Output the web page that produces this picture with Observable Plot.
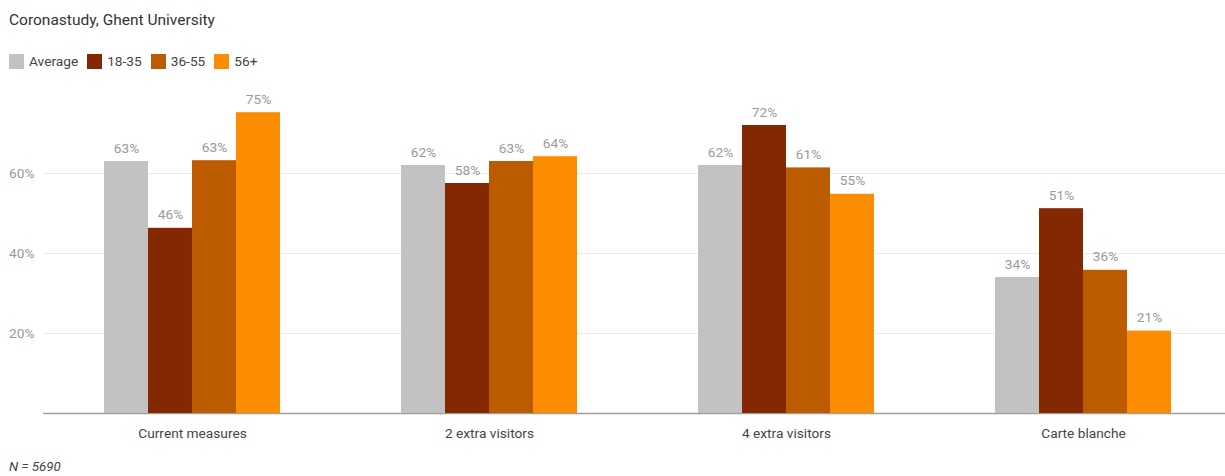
<!DOCTYPE html>
<html>
<head>
<meta charset="utf-8">
<script src="https://cdn.jsdelivr.net/npm/d3@7"></script>
<script src="https://cdn.jsdelivr.net/npm/@observablehq/plot@0.6"></script>
<style>
  html, body { margin: 0; padding: 0; background: #fff; }
  #root { position: relative; width: 1225px; height: 476px; font-family: Roboto, "Noto Sans", sans-serif; overflow: hidden; }
  #title { position: absolute; left: 9px; top: 11px; font-size: 15.5px; color: #333; }
  #legend { position: absolute; left: 9px; top: 53px; display: flex; align-items: center; font-size: 13.7px; color: #444; }
  .item { display: flex; align-items: center; margin-right: 9px; }
  .sw { width: 15px; height: 15px; margin-right: 5px; }
  .layer { position: absolute; left: 0; top: 80px; }
  #caption { position: absolute; left: 9px; top: 459px; font-size: 13.3px; font-style: italic; color: #444; }
</style>
</head>
<body>
<div id="root">
  <div id="title">Coronastudy, Ghent University</div>
  <div id="legend"></div>
  <div id="bg" class="layer"></div>
  <div id="fg" class="layer"></div>
  <div id="caption">N = 5690</div>
</div>
<script>
const groups = ["Current measures", "2 extra visitors", "4 extra visitors", "Carte blanche"];
const series = ["Average", "18-35", "36-55", "56+"];
const colors = ["#c2c2c2", "#832800", "#bd5b00", "#fc8c00"];
const average = [63, 62, 62, 34];
const age18_35 = [46.3, 57.5, 72, 51.2];
const age36_55 = [63.2, 63, 61.4, 35.8];
const age56plus = [75.2, 64.2, 54.8, 20.6];
const yTicks = [20, 40, 60];

const seriesValues = [average, age18_35, age36_55, age56plus];
const data = [];
groups.forEach((g, gi) => series.forEach((s, si) => data.push({group: g, series: s, value: seriesValues[si][gi]})));

// legend
const legend = document.getElementById("legend");
series.forEach((s, i) => {
  const it = document.createElement("div");
  it.className = "item";
  it.innerHTML = `<div class="sw" style="background:${colors[i]}"></div><span>${s}</span>`;
  legend.appendChild(it);
});

const W = 1225, H = 370, MT = 13, MB = 37, ML = 43;
const FS = 13.7;

// background: gridlines, baseline, y axis labels
const bg = Plot.plot({
  width: W, height: H, marginTop: MT, marginBottom: MB, marginLeft: ML, marginRight: 0,
  style: {fontFamily: "Roboto, sans-serif", fontSize: FS + "px", background: "transparent"},
  y: {domain: [0, 80]},
  marks: [
    Plot.ruleY(yTicks, {stroke: "#ebebeb", strokeWidth: 1}),
    Plot.axisY(yTicks, {tickSize: 0, tickPadding: 9, tickFormat: d => d + "%", color: "#9a9a9a", label: null, fontSize: FS}),
    Plot.ruleY([0], {stroke: "#9e9e9e", strokeWidth: 1.3})
  ]
});
document.getElementById("bg").appendChild(bg);

// foreground: bars, value labels, group labels
const fg = Plot.plot({
  width: W, height: H, marginTop: MT, marginBottom: MB, marginLeft: ML, marginRight: -6,
  style: {fontFamily: "Roboto, sans-serif", fontSize: FS + "px", background: "transparent"},
  fx: {domain: groups, paddingInner: 0.402, paddingOuter: 0.201, label: null, axis: null},
  x: {domain: series, padding: 0, axis: null},
  y: {domain: [0, 80], axis: null},
  color: {domain: series, range: colors},
  marks: [
    Plot.barY(data, {fx: "group", x: "series", y: "value", fill: "series"}),
    Plot.text(data, {fx: "group", x: "series", y: "value", text: d => Math.round(d.value) + "%", dy: -9, lineAnchor: "bottom", fill: "#9a9a9a", fontSize: FS}),
    Plot.axisFx({anchor: "bottom", tickSize: 0, tickPadding: 15, label: null, color: "#444", fontSize: FS})
  ]
});
document.getElementById("fg").appendChild(fg);
</script>
</body>
</html>
